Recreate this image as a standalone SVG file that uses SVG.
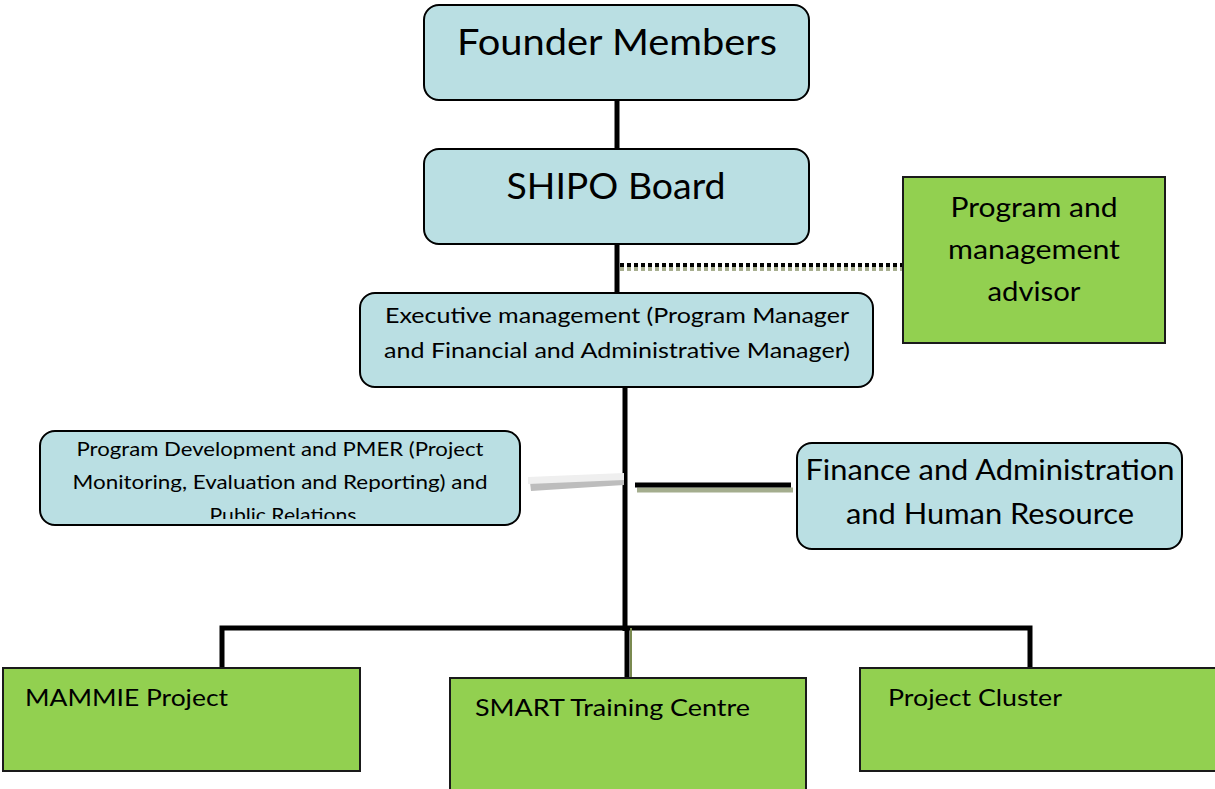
<svg xmlns="http://www.w3.org/2000/svg" width="1215" height="789" viewBox="0 0 1215 789">
<style>
.blue{fill:#badfe3;stroke:#000;stroke-width:2}
.green{fill:#92d050;stroke:#1a1a1a;stroke-width:2}
text{font-family:Lato,"Open Sans","Liberation Sans",sans-serif;fill:#000}
.c{text-anchor:middle}
.ln{stroke:#000;stroke-width:5;fill:none}
</style>
<defs>
<clipPath id="pdclip"><rect x="40" y="431" width="480" height="88"/></clipPath>
</defs>
<rect width="1215" height="789" fill="#fff"/>
<g id="connectors">
<line class="ln" x1="617" y1="100" x2="617" y2="150"/>
<line class="ln" x1="617" y1="244" x2="617" y2="293"/>
<line x1="620" y1="269" x2="903" y2="269" stroke="#a7ae8f" stroke-width="4" stroke-dasharray="4,3"/>
<line x1="620" y1="265" x2="903" y2="265" stroke="#000" stroke-width="4" stroke-dasharray="4,3"/>
<line class="ln" x1="625" y1="387" x2="625" y2="631"/>
<polygon points="530,482 624,477 624,485 531,491" fill="#bdbdbd"/>
<polygon points="528,477 624,473 624,480 528,484" fill="#efefef"/>
<line x1="637" y1="490" x2="793" y2="490" stroke="#a4ad8e" stroke-width="5"/>
<line x1="635" y1="485" x2="791" y2="485" stroke="#000" stroke-width="5"/>
<polyline class="ln" stroke-width="6" points="222,668 222,628 1030,628 1030,668"/>
<line class="ln" x1="627" y1="628" x2="627" y2="678"/>
<line x1="631" y1="628" x2="631" y2="680" stroke="#7a8a50" stroke-width="2"/>
</g>
<g id="founder">
<rect class="blue" x="424" y="5" width="385" height="95" rx="15"/>
<text class="c" x="617" y="55" font-size="36" textLength="320" lengthAdjust="spacingAndGlyphs">Founder Members</text>
</g>
<g id="board">
<rect class="blue" x="424" y="149" width="385" height="95" rx="15"/>
<text class="c" x="616" y="199" font-size="36" textLength="219" lengthAdjust="spacingAndGlyphs">SHIPO Board</text>
</g>
<g id="advisor">
<rect class="green" x="903" y="177" width="262" height="166"/>
<text class="c" x="1034" y="217" font-size="26" textLength="167" lengthAdjust="spacingAndGlyphs">Program and</text>
<text class="c" x="1034" y="259" font-size="26" textLength="172" lengthAdjust="spacingAndGlyphs">management</text>
<text class="c" x="1034" y="301" font-size="26" textLength="93" lengthAdjust="spacingAndGlyphs">advisor</text>
</g>
<g id="exec">
<rect class="blue" x="360" y="293" width="513" height="94" rx="15"/>
<text class="c" x="617" y="323" font-size="22" textLength="464" lengthAdjust="spacingAndGlyphs">Executive management (Program Manager</text>
<text class="c" x="617" y="358" font-size="22" textLength="466" lengthAdjust="spacingAndGlyphs">and Financial and Administrative Manager)</text>
</g>
<g id="pmer">
<rect class="blue" x="40" y="431" width="480" height="94" rx="15"/>
<g clip-path="url(#pdclip)">
<text class="c" x="280" y="456" font-size="19" textLength="407" lengthAdjust="spacingAndGlyphs">Program Development and PMER (Project</text>
<text class="c" x="280" y="489" font-size="19" textLength="415" lengthAdjust="spacingAndGlyphs">Monitoring, Evaluation and Reporting) and</text>
<text class="c" x="283" y="522" font-size="19" textLength="147" lengthAdjust="spacingAndGlyphs">Public Relations</text>
</g>
</g>
<g id="finance">
<rect class="blue" x="797" y="443" width="385" height="106" rx="15"/>
<text class="c" x="990" y="480" font-size="28" textLength="369" lengthAdjust="spacingAndGlyphs">Finance and Administration</text>
<text class="c" x="990" y="524" font-size="28" textLength="288" lengthAdjust="spacingAndGlyphs">and Human Resource</text>
</g>
<g id="mammie">
<rect class="green" x="3" y="668" width="357" height="103"/>
<text x="25" y="706" font-size="24" textLength="203" lengthAdjust="spacingAndGlyphs">MAMMIE Project</text>
</g>
<g id="smart">
<rect class="green" x="450" y="678" width="356" height="115"/>
<text x="475" y="716" font-size="24" textLength="275" lengthAdjust="spacingAndGlyphs">SMART Training Centre</text>
</g>
<g id="cluster">
<rect class="green" x="860" y="668" width="360" height="103"/>
<text x="888" y="706" font-size="24" textLength="174" lengthAdjust="spacingAndGlyphs">Project Cluster</text>
</g>
</svg>
